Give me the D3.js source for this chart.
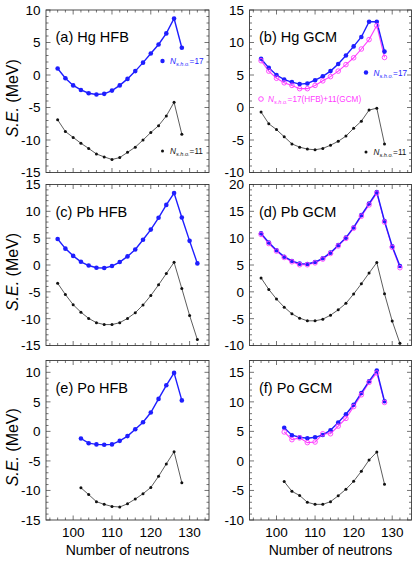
<!DOCTYPE html>
<html><head><meta charset="utf-8">
<script src="https://cdn.jsdelivr.net/npm/d3@7"></script>
<style>body{margin:0;background:#fff}svg{display:block}text{font-family:"Liberation Sans",Arial,Helvetica,sans-serif}</style>
</head><body><svg id="c" width="416" height="566"></svg>
<script>
// ---- data ----
const nHg = [96,98,100,102,104,106,108,110,112,114,116,118,120,122,124,126,128];
const nPb = [96,98,100,102,104,106,108,110,112,114,116,118,120,122,124,126,128,130,132];
const nPo = [102,104,106,108,110,112,114,116,118,120,122,124,126,128];

const hgHFB17 = [1.0,-0.5,-1.6,-2.3,-2.8,-3.0,-2.9,-2.4,-1.6,-0.6,0.6,1.9,3.3,4.7,6.4,8.7,4.2];
const hgHFB11 = [-6.9,-8.7,-9.6,-10.5,-11.3,-12.15,-12.6,-13.0,-12.7,-11.9,-11.1,-10.0,-8.85,-7.8,-6.3,-4.2,-9.1];
const hgGCM17 = [7.5,6.1,5.0,4.3,3.9,3.6,3.7,4.2,4.8,5.6,6.7,8.0,9.4,10.85,13.2,13.2,8.6];
const hgGCMmix = [7.2,5.6,4.5,3.8,3.4,2.9,2.9,3.4,4.1,4.75,5.6,6.6,7.65,9.0,10.45,12.6,7.7];
const hgGCM11 = [-0.7,-2.5,-3.4,-4.5,-5.6,-6.1,-6.4,-6.5,-6.3,-5.8,-5.2,-4.4,-3.2,-2.1,-0.4,-0.1,-5.6];

const pbHFB17 = [4.85,3.05,1.7,0.6,-0.1,-0.5,-0.55,-0.2,0.55,1.6,2.9,4.7,6.6,8.8,11.2,13.4,8.85,4.5,0.3];
const pbHFB11 = [-3.4,-5.5,-7.4,-8.8,-9.95,-10.75,-11.1,-11.1,-10.75,-9.95,-8.9,-7.45,-5.7,-3.7,-1.6,0.5,-4.4,-9.4,-13.9];
const pbGCM17 = [10.9,9.2,7.75,6.55,5.75,5.25,5.2,5.55,6.25,7.3,8.7,10.1,12.0,14.3,16.45,18.6,13.2,8.5,4.8];
const pbGCMmix = [10.7,9.0,7.6,6.4,5.6,5.05,5.05,5.4,6.1,7.15,8.55,9.95,11.85,14.1,16.2,18.4,13.0,8.3,4.5];
const pbGCM11 = [2.6,0.45,-1.35,-2.85,-4.1,-4.9,-5.4,-5.4,-5.1,-4.35,-3.35,-2.15,-0.4,1.5,3.5,5.45,-0.35,-5.45,-9.6];

const poHFB17 = [-1.2,-2.0,-2.2,-2.25,-2.2,-1.6,-0.8,0.35,1.55,3.2,5.5,7.8,9.9,5.25];
const poHFB11 = [-9.55,-10.7,-11.9,-12.35,-12.7,-12.8,-12.25,-11.45,-10.55,-9.5,-7.6,-5.5,-3.45,-8.7];
const poGCM17 = [5.6,4.35,4.0,3.85,4.0,4.4,5.2,6.5,7.9,9.5,11.5,13.5,15.3,10.1];
const poGCMmix = [4.9,3.6,3.9,3.1,3.2,4.6,4.6,5.9,7.2,9.2,11.2,13.3,14.9,9.9];
const poGCM11 = [-3.5,-5.15,-5.85,-7.0,-7.35,-7.35,-6.9,-5.9,-4.8,-3.45,-1.75,0.15,1.5,-3.95];

const xTickLabels = [100,110,120,130];
const titles = ["(a) Hg HFB","(b) Hg GCM","(c) Pb HFB","(d) Pb GCM","(e) Po HFB","(f) Po GCM"];
const yDomains = [[-15,10],[-10,15],[-15,15],[-10,20],[-15,12],[-10,17]];
const yTickValues = [[-15,-10,-5,0,5,10],[-10,-5,0,5,10,15],[-15,-10,-5,0,5,10,15],[-10,-5,0,5,10,15,20],[-15,-10,-5,0,5,10],[-10,-5,0,5,10,15]];
const legend17 = "=17", legend11 = "=11", legendMix = "=17(HFB)+11(GCM)";

// ---- style / layout ----
const BLUE = "#1e1eff", MAG = "#ff3cff", BLK = "#111", FRAME = "#3a3a3a";
const cols = [[46,209],[249.5,411.5]];
const rows = [[10,172.5],[184.5,345.5],[360.5,520]];
const xDomain = [93,135];

const panels = [
  {n:nHg, s17:hgHFB17, s11:hgHFB11, mix:null},
  {n:nHg, s17:hgGCM17, s11:hgGCM11, mix:hgGCMmix},
  {n:nPb, s17:pbHFB17, s11:pbHFB11, mix:null},
  {n:nPb, s17:pbGCM17, s11:pbGCM11, mix:pbGCMmix},
  {n:nPo, s17:poHFB17, s11:poHFB11, mix:null},
  {n:nPo, s17:poGCM17, s11:poGCM11, mix:poGCMmix}
];

const svg = d3.select("#c");

function legendText(g, x, y, color, rest){
  const t = g.append("text").attr("x",x).attr("y",y).attr("fill",color).attr("font-size",8.2);
  t.append("tspan").attr("font-style","italic").text("N");
  t.append("tspan").attr("font-style","italic").attr("font-size",5.6).attr("dy",2).text("s.h.o.");
  t.append("tspan").attr("dy",-2).text(rest);
}

panels.forEach((p,i)=>{
  const c = i%2, r = Math.floor(i/2);
  const [x0,x1] = cols[c], [y0,y1] = rows[r];
  const x = d3.scaleLinear().domain(xDomain).range([x0,x1]);
  const y = d3.scaleLinear().domain(yDomains[i]).range([y1,y0]);
  const g = svg.append("g");

  // ticks (inward, all four sides)
  const xMinor = d3.range(94,135,2), yMinor = d3.range(yDomains[i][0], yDomains[i][1]+0.001, 1);
  const tk = g.append("g").attr("stroke",FRAME).attr("stroke-width",0.7);
  xMinor.forEach(v=>{
    const L = (v%10===0)?4.5:2.5;
    tk.append("line").attr("x1",x(v)).attr("x2",x(v)).attr("y1",y1).attr("y2",y1-L);
    tk.append("line").attr("x1",x(v)).attr("x2",x(v)).attr("y1",y0).attr("y2",y0+L);
  });
  yMinor.forEach(v=>{
    const L = (v%5===0)?4.5:2.5;
    tk.append("line").attr("y1",y(v)).attr("y2",y(v)).attr("x1",x0).attr("x2",x0+L);
    tk.append("line").attr("y1",y(v)).attr("y2",y(v)).attr("x1",x1).attr("x2",x1-L);
  });
  g.append("rect").attr("x",x0).attr("y",y0).attr("width",x1-x0).attr("height",y1-y0)
    .attr("fill","none").attr("stroke",FRAME).attr("stroke-width",0.9);

  // y tick labels
  yTickValues[i].forEach(v=>{
    g.append("text").attr("x",x0-5.5).attr("y",y(v)).attr("dy","0.36em").attr("text-anchor","end")
      .attr("font-size",13.5).attr("fill","#000").text(v);
  });
  // x tick labels on bottom row
  if(r===2){
    xTickLabels.forEach(v=>{
      g.append("text").attr("x",x(v)).attr("y",y1+17).attr("text-anchor","middle")
        .attr("font-size",13.5).attr("fill","#000").text(v);
    });
    g.append("text").attr("x",(x0+x1)/2).attr("y",y1+34.5).attr("text-anchor","middle")
      .attr("font-size",14).attr("fill","#000").text("Number of neutrons");
  }
  // y axis title on left column
  if(c===0){
    const t = g.append("text").attr("transform",`translate(18,${(y0+y1)/2+7}) rotate(-90)`)
      .attr("text-anchor","middle").attr("font-size",16).attr("fill","#000");
    t.append("tspan").attr("font-style","italic").text("S.E.");
    t.append("tspan").text(" (MeV)");
  }
  // panel title
  g.append("text").attr("x",x0+9.5).attr("y",y0+32).attr("font-size",14.5).attr("fill","#000").text(titles[i]);

  const line = d3.line().x(d=>x(d[0])).y(d=>y(d[1]));
  const d17 = p.n.map((v,k)=>[v,p.s17[k]]);
  const d11 = p.n.map((v,k)=>[v,p.s11[k]]);

  // black N=11
  g.append("path").datum(d11).attr("d",line).attr("fill","none").attr("stroke","#333").attr("stroke-width",0.8);
  g.selectAll(null).data(d11).enter().append("circle").attr("cx",d=>x(d[0])).attr("cy",d=>y(d[1])).attr("r",1.5).attr("fill",BLK);

  let dm = null;
  if(p.mix){
    dm = p.n.map((v,k)=>[v,p.mix[k]]);
    g.append("path").datum(dm).attr("d",line).attr("fill","none").attr("stroke",MAG).attr("stroke-width",1.1);
  }
  g.append("path").datum(d17).attr("d",line).attr("fill","none").attr("stroke",BLUE).attr("stroke-width",1.4);
  g.selectAll(null).data(d17).enter().append("circle").attr("cx",d=>x(d[0])).attr("cy",d=>y(d[1])).attr("r",2.3).attr("fill",BLUE);
  if(dm){
    g.selectAll(null).data(dm).enter().append("circle").attr("cx",d=>x(d[0])).attr("cy",d=>y(d[1])).attr("r",2.3)
      .attr("fill","none").attr("stroke",MAG).attr("stroke-width",0.9);
  }

  // legends (Hg panels only)
  if(r===0){
    const lx = x0+116.5;
    const ly17 = c===0 ? y0+51 : y0+62.5;
    g.append("circle").attr("cx",lx).attr("cy",ly17).attr("r",2.2).attr("fill",BLUE);
    legendText(g, lx+7.5, ly17+3, BLUE, legend17);
    const ly11 = c===0 ? y0+141 : y0+142;
    g.append("circle").attr("cx",lx).attr("cy",ly11).attr("r",1.5).attr("fill",BLK);
    legendText(g, lx+7.5, ly11+3, BLK, legend11);
    if(c===1){
      const mx = x0+11.5, my = y0+89;
      g.append("circle").attr("cx",mx).attr("cy",my).attr("r",2.3).attr("fill","none").attr("stroke",MAG).attr("stroke-width",0.9);
      legendText(g, mx+7, my+3, MAG, legendMix);
    }
  }
});
</script></body></html>
